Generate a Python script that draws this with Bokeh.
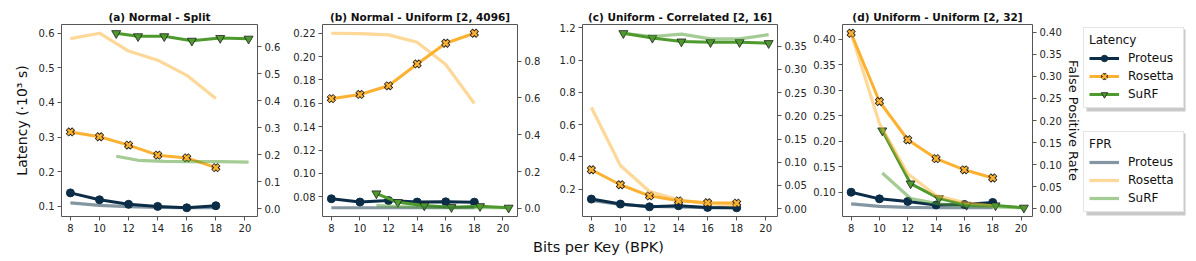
from bokeh.plotting import figure
from bokeh.models import (Range1d, LinearAxis, FixedTicker, PrintfTickFormatter, Legend,
                          LegendItem, Title, BoxAnnotation)
from bokeh.layouts import row, column
from bokeh.embed import file_html
from bokeh.resources import INLINE

# ---------------- data ----------------
BPK = [8, 10, 12, 14, 16, 18]

titles = ["(a) Normal - Split", "(b) Normal - Uniform [2, 4096]",
          "(c) Uniform - Correlated [2, 16]", "(d) Uniform - Uniform [2, 32]"]

surf_bpk_a = [11.15, 12.65, 14.45, 16.35, 18.3, 20.25]
surf_bpk_b = [11.15, 12.65, 14.5, 16.4, 18.4, 20.4]
surf_bpk_c = [10.2, 12.2, 14.2, 16.2, 18.2, 20.2]
surf_bpk_d = [10.2, 12.2, 14.2, 16.15, 18.2, 20.2]

# latency (x 10^3 s)
proteus_lat_a = [0.139, 0.119, 0.106, 0.100, 0.096, 0.102]
rosetta_lat_a = [0.315, 0.301, 0.277, 0.248, 0.240, 0.212]
surf_lat_a = [0.600, 0.591, 0.591, 0.578, 0.586, 0.584]
proteus_lat_b = [0.0783, 0.0755, 0.0768, 0.0755, 0.0757, 0.0754]
rosetta_lat_b = [0.164, 0.1676, 0.175, 0.1937, 0.2114, 0.220]
surf_lat_b = [0.0828, 0.0754, 0.0725, 0.0711, 0.0719, 0.0706]
proteus_lat_c = [0.138, 0.107, 0.090, 0.0965, 0.086, 0.084]
rosetta_lat_c = [0.320, 0.227, 0.158, 0.127, 0.115, 0.113]
surf_lat_c = [1.167, 1.138, 1.115, 1.111, 1.111, 1.105]
proteus_lat_d = [0.100, 0.087, 0.082, 0.075, 0.076, 0.080]
rosetta_lat_d = [0.412, 0.278, 0.203, 0.166, 0.144, 0.128]
surf_lat_d = [0.221, 0.117, 0.088, 0.075, 0.074, 0.0695]

# false positive rate
proteus_fpr_a = [0.022, 0.013, 0.008, 0.005, 0.004, 0.004]
rosetta_fpr_a = [0.631, 0.651, 0.585, 0.551, 0.495, 0.409]
surf_fpr_a = [0.195, 0.180, 0.176, 0.175, 0.175, 0.173]
proteus_fpr_b = [0.003, 0.003, 0.003, 0.003, 0.003, 0.003]
rosetta_fpr_b = [0.952, 0.950, 0.943, 0.903, 0.782, 0.570]
surf_fpr_b = [0.016, 0.010, 0.007, 0.005, 0.004, 0.003]
proteus_fpr_c = [0.018, 0.009, 0.005, 0.004, 0.002, 0.002]
rosetta_fpr_c = [0.218, 0.093, 0.037, 0.019, 0.011, 0.007]
surf_fpr_c = [0.378, 0.371, 0.376, 0.366, 0.366, 0.375]
proteus_fpr_d = [0.011, 0.005, 0.003, 0.002, 0.002, 0.002]
rosetta_fpr_d = [0.398, 0.193, 0.079, 0.030, 0.014, 0.006]
surf_fpr_d = [0.081, 0.023, 0.011, 0.006, 0.004, 0.002]

# tick labels
left_ticks_a = [0.1, 0.2, 0.3, 0.4, 0.5, 0.6]
right_ticks_a = [0.0, 0.1, 0.2, 0.3, 0.4, 0.5, 0.6]
left_ticks_b = [0.08, 0.10, 0.12, 0.14, 0.16, 0.18, 0.20, 0.22]
right_ticks_b = [0.0, 0.2, 0.4, 0.6, 0.8]
left_ticks_c = [0.2, 0.4, 0.6, 0.8, 1.0, 1.2]
right_ticks_c = [0.00, 0.05, 0.10, 0.15, 0.20, 0.25, 0.30, 0.35]
left_ticks_d = [0.10, 0.15, 0.20, 0.25, 0.30, 0.35, 0.40]
right_ticks_d = [0.00, 0.05, 0.10, 0.15, 0.20, 0.25, 0.30, 0.35, 0.40]
x_ticks = [8, 10, 12, 14, 16, 18, 20]
series_names = ["Proteus", "Rosetta", "SuRF"]

# ---------------- style ----------------
PROTEUS = "#0c2d48"
ROSETTA = "#fbb131"
SURF = "#4e9a2e"
EDGE = "#1e1e1e"
FRAME = "#555555"
TXT = "#262626"
FONT = "DejaVu Sans"
ROW_H = 236


def padded(*series):
    vals = [v for s in series for v in s]
    lo, hi = min(vals), max(vals)
    d = (hi - lo) * 0.05
    return lo - d, hi + d


def style_axis(ax, ticks, fmt):
    ax.ticker = FixedTicker(ticks=ticks)
    ax.formatter = PrintfTickFormatter(format=fmt)
    ax.axis_line_color = None
    ax.major_tick_out = 4
    ax.major_tick_in = 0
    ax.major_tick_line_color = FRAME
    ax.minor_tick_out = 0
    ax.minor_tick_in = 0
    ax.major_label_text_font = FONT
    ax.major_label_text_font_size = "10px"
    ax.major_label_text_color = TXT
    ax.major_label_standoff = 3


def draw_series(p, sx, lat, fpr=None):
    """Draw latency (line + marker) and FPR lines; returns renderer groups."""
    p_lat, r_lat, s_lat = lat
    l1 = p.line(BPK, p_lat, line_color=PROTEUS, line_width=3)
    m1 = p.scatter(BPK, p_lat, marker="circle", size=8, fill_color=PROTEUS, line_color=PROTEUS)
    l2 = p.line(BPK, r_lat, line_color=ROSETTA, line_width=3)
    m2a = p.scatter(BPK, r_lat, marker="x", size=9, line_color=EDGE, line_width=4.2)
    m2b = p.scatter(BPK, r_lat, marker="x", size=7.6, line_color=ROSETTA, line_width=2.4)
    l3 = p.line(sx, s_lat, line_color=SURF, line_width=3)
    m3 = p.scatter(sx, s_lat, marker="inverted_triangle", size=9, fill_color=SURF,
                   line_color=EDGE, line_width=0.8)
    groups = [[l1, m1], [l2, m2a, m2b], [l3, m3]]
    fr = []
    if fpr is not None:
        p_fpr, r_fpr, s_fpr = fpr
        kw = dict(line_alpha=0.5, line_width=3.2, y_range_name="fpr")
        fr.append(p.line(BPK, p_fpr, line_color=PROTEUS, **kw))
        fr.append(p.line(BPK, r_fpr, line_color=ROSETTA, **kw))
        fr.append(p.line(sx, s_fpr, line_color=SURF, **kw))
    return groups, fr


def panel(title, sx, lat, fpr, lt, lf, rt, rf, width, bl, br):
    x0, x1 = padded(BPK, sx)
    y0, y1 = padded(*lat)
    f0, f1 = padded(*fpr)
    p = figure(width=width, height=ROW_H, output_backend="svg", toolbar_location=None,
               x_range=Range1d(x0, x1), y_range=Range1d(y0, y1),
               min_border_left=bl, min_border_right=br, min_border_top=24, min_border_bottom=20)
    p.extra_y_ranges = {"fpr": Range1d(f0, f1)}
    p.outline_line_color = FRAME
    p.outline_line_width = 1
    p.xgrid.visible = False
    p.ygrid.visible = False
    p.title.text = title
    p.title.text_font = FONT
    p.title.text_font_size = "10.5px"
    p.title.text_font_style = "bold"
    p.title.text_color = "#111111"
    p.title.align = "center"
    p.title.standoff = 3
    style_axis(p.xaxis[0], x_ticks, "%d")
    style_axis(p.yaxis[0], lt, lf)
    rax = LinearAxis(y_range_name="fpr")
    style_axis(rax, rt, rf)
    p.add_layout(rax, "right")
    draw_series(p, sx, lat, fpr)
    return p, rax


pa, ra = panel(titles[0], surf_bpk_a, (proteus_lat_a, rosetta_lat_a, surf_lat_a),
               (proteus_fpr_a, rosetta_fpr_a, surf_fpr_a),
               left_ticks_a, "%.1f", right_ticks_a, "%.1f", 290, 61, 33)
pb, rb = panel(titles[1], surf_bpk_b, (proteus_lat_b, rosetta_lat_b, surf_lat_b),
               (proteus_fpr_b, rosetta_fpr_b, surf_fpr_b),
               left_ticks_b, "%.2f", right_ticks_b, "%.1f", 260, 32, 33)
pc, rc = panel(titles[2], surf_bpk_c, (proteus_lat_c, rosetta_lat_c, surf_lat_c),
               (proteus_fpr_c, rosetta_fpr_c, surf_fpr_c),
               left_ticks_c, "%.1f", right_ticks_c, "%.2f", 260, 32, 33)
pd, rd = panel(titles[3], surf_bpk_d, (proteus_lat_d, rosetta_lat_d, surf_lat_d),
               (proteus_fpr_d, rosetta_fpr_d, surf_fpr_d),
               left_ticks_d, "%.2f", right_ticks_d, "%.2f", 273, 32, 45)

pa.yaxis[0].axis_label = "Latency (\u00b710\u00b3 s)"
pa.yaxis[0].axis_label_text_font = FONT
pa.yaxis[0].axis_label_text_font_size = "14px"
pa.yaxis[0].axis_label_text_font_style = "normal"
pa.yaxis[0].axis_label_text_color = "#111111"
pa.yaxis[0].axis_label_standoff = 6

rd.axis_label = "False Positive Rate"
rd.axis_label_text_font = FONT
rd.axis_label_text_font_size = "13px"
rd.axis_label_text_font_style = "normal"
rd.axis_label_text_color = "#111111"
rd.axis_label_standoff = 1

# ---------------- legend panel ----------------
# the legend keys reuse panel (d)'s series; the x range keeps them out of view
pleg = figure(width=113, height=ROW_H, output_backend="svg", toolbar_location=None,
              x_range=Range1d(0, 1), y_range=Range1d(0, 1),
              min_border=0, x_axis_location=None, y_axis_location=None,
              outline_line_color=None)
pleg.xgrid.visible = False
pleg.ygrid.visible = False
pleg.extra_y_ranges = {"fpr": Range1d(0, 1)}
lat_groups, fpr_keys = draw_series(pleg, surf_bpk_d, (proteus_lat_d, rosetta_lat_d, surf_lat_d),
                                   (proteus_fpr_d, rosetta_fpr_d, surf_fpr_d))


def make_legend(title, groups, loc):
    leg = Legend(items=[LegendItem(label=n, renderers=g) for n, g in zip(series_names, groups)],
                 title=title, location=loc)
    leg.title_text_font = FONT
    leg.title_text_font_size = "12px"
    leg.title_text_font_style = "normal"
    leg.title_text_color = "#111111"
    leg.title_standoff = 3
    leg.label_text_font = FONT
    leg.label_text_font_size = "12px"
    leg.label_text_color = "#111111"
    leg.glyph_width = 30
    leg.glyph_height = 16
    leg.label_height = 16
    leg.label_width = 50
    leg.label_standoff = 9
    leg.spacing = 2
    leg.padding = 5
    leg.margin = 0
    leg.border_line_color = "#cccccc"
    leg.border_line_width = 1
    leg.background_fill_color = "white"
    leg.background_fill_alpha = 1.0
    return leg


# soft drop shadows behind the two legend boxes (frame-relative screen units)
for bottom, top in ((105, 187), (1, 83)):
    pleg.add_layout(BoxAnnotation(left=3, right=102, bottom=bottom, top=top,
                                  left_units="screen", right_units="screen",
                                  bottom_units="screen", top_units="screen",
                                  fill_color="#888888", fill_alpha=0.45, line_color=None))

pleg.add_layout(make_legend("Latency", lat_groups, (0, 108)))
pleg.add_layout(make_legend("FPR", [[r] for r in fpr_keys], (0, 4)))

# ---------------- shared x label ----------------
plab = figure(width=1196, height=25, output_backend="svg", toolbar_location=None,
              min_border=0, x_axis_location=None, y_axis_location=None,
              outline_line_color=None)
plab.xgrid.visible = False
plab.ygrid.visible = False
plab.add_layout(Title(text="Bits per Key (BPK)", align="center", text_font=FONT,
                      text_font_size="14.5px", text_font_style="normal",
                      text_color="#111111", standoff=0), "above")

layout = column(row(pa, pb, pc, pd, pleg), plab)
open("out.html", "w").write(file_html(layout, INLINE))
